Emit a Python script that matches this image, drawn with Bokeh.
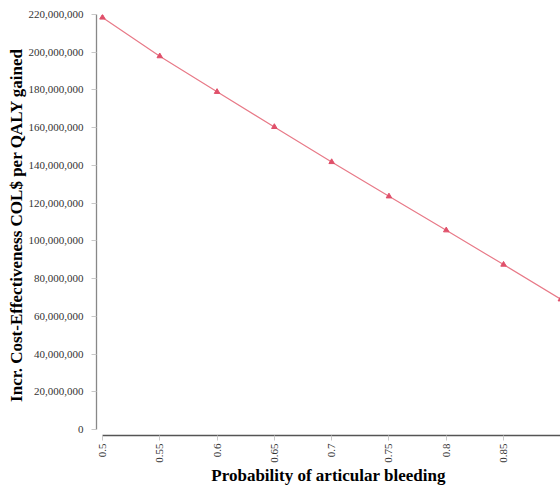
from bokeh.plotting import figure
from bokeh.models import NumeralTickFormatter, FixedTicker, Range1d
from bokeh.embed import file_html
from bokeh.resources import INLINE
import math

prob = [0.5, 0.55, 0.6, 0.65, 0.7, 0.75, 0.8, 0.85, 0.9]
icer = [218400000, 197900000, 179000000, 160400000, 141800000, 123600000, 105600000, 87400000, 69000000]
x_ticks = [0.5, 0.55, 0.6, 0.65, 0.7, 0.75, 0.8, 0.85, 0.9, 0.95]
y_ticks = [0, 20000000, 40000000, 60000000, 80000000, 100000000, 120000000,
           140000000, 160000000, 180000000, 200000000, 220000000]

p = figure(width=560, height=487, output_backend="svg", toolbar_location=None,
           x_range=Range1d(0.4948, 0.8997), y_range=Range1d(-3200000, 220000000),
           min_border_top=14, min_border_right=0, min_border_left=96, min_border_bottom=0)
p.outline_line_color = None
p.grid.visible = False
p.background_fill_color = "white"
p.border_fill_color = "white"

p.line(prob, icer, line_color="#e87a88", line_width=1.2)
p.scatter(prob, icer, marker="triangle", size=5.5, fill_color="#e0506a", line_color="#e0506a")

# x axis
xa = p.xaxis[0]
xa.ticker = FixedTicker(ticks=x_ticks)
xa.bounds = (0.5, 1.0)
xa.axis_label = "Probability of articular bleeding"
xa.axis_label_text_font = "Liberation Serif"
xa.axis_label_text_font_style = "bold"
xa.axis_label_text_font_size = "17px"
xa.axis_label_text_color = "black"
xa.axis_label_standoff = 0
xa.major_label_orientation = math.pi / 2
xa.major_label_text_font = "Liberation Serif"
xa.major_label_text_font_size = "11px"
xa.major_label_text_color = "#333333"
xa.major_label_standoff = 3
xa.axis_line_color = "#555555"
xa.axis_line_width = 1.3
xa.major_tick_line_color = "#c8c8c8"
xa.major_tick_in = 0
xa.major_tick_out = 5
xa.minor_tick_line_color = None

# y axis
ya = p.yaxis[0]
ya.ticker = FixedTicker(ticks=y_ticks)
ya.bounds = (0, 220000000)
ya.formatter = NumeralTickFormatter(format="0,0")
ya.axis_label = "Incr. Cost-Effectiveness COL$ per QALY gained"
ya.axis_label_text_font = "Liberation Serif"
ya.axis_label_text_font_style = "bold"
ya.axis_label_text_font_size = "17px"
ya.axis_label_text_color = "black"
ya.axis_label_standoff = 0
ya.major_label_text_font = "Liberation Serif"
ya.major_label_text_font_size = "11px"
ya.major_label_text_color = "#333333"
ya.major_label_standoff = 8
ya.axis_line_color = "#888888"
ya.axis_line_width = 1.3
ya.major_tick_line_color = "#c8c8c8"
ya.major_tick_in = 0
ya.major_tick_out = 5
ya.minor_tick_line_color = None

open("out.html", "w").write(file_html(p, INLINE))
